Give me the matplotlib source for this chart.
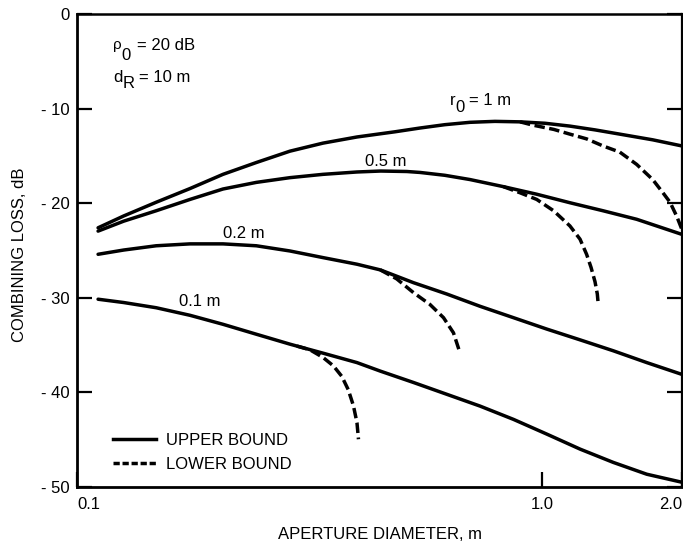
import matplotlib
matplotlib.use("Agg")
import matplotlib.pyplot as plt
from matplotlib.lines import Line2D
from matplotlib.ticker import FixedLocator, FixedFormatter, NullLocator

plt.rcParams["font.family"] = ["Liberation Sans", "DejaVu Sans"]

# ---- upper bounds (solid) ----
d_1m_up = [0.111, 0.126, 0.148, 0.175, 0.206, 0.243, 0.287, 0.338, 0.40, 0.483,
           0.547, 0.618, 0.70, 0.792, 0.897, 1.015, 1.148, 1.30, 1.47, 1.73, 2.0]
l_1m_up = [-22.6, -21.35, -19.9, -18.45, -16.95, -15.7, -14.5, -13.65, -13.0, -12.45,
           -12.05, -11.7, -11.45, -11.35, -11.4, -11.55, -11.85, -12.25, -12.7, -13.3, -13.95]

d_05m_up = [0.111, 0.126, 0.148, 0.175, 0.206, 0.243, 0.287, 0.338, 0.40, 0.45,
            0.512, 0.547, 0.618, 0.70, 0.826, 0.974, 1.148, 1.353, 1.598, 2.0]
l_05m_up = [-22.95, -21.9, -20.8, -19.6, -18.5, -17.8, -17.3, -16.95, -16.7, -16.6,
            -16.65, -16.75, -17.05, -17.5, -18.25, -19.05, -19.95, -20.8, -21.7, -23.3]

d_02m_up = [0.111, 0.126, 0.148, 0.175, 0.206, 0.243, 0.287, 0.338, 0.40, 0.449,
            0.529, 0.624, 0.736, 0.868, 1.023, 1.208, 1.423, 1.68, 2.0]
l_02m_up = [-25.4, -24.95, -24.5, -24.3, -24.3, -24.5, -25.05, -25.75, -26.45, -27.05,
            -28.4, -29.6, -30.9, -32.1, -33.3, -34.45, -35.6, -36.85, -38.1]

d_01m_up = [0.111, 0.126, 0.148, 0.175, 0.206, 0.243, 0.287, 0.338, 0.40, 0.449,
            0.529, 0.624, 0.736, 0.868, 1.023, 1.208, 1.423, 1.68, 2.0]
l_01m_up = [-30.15, -30.5, -31.05, -31.85, -32.8, -33.85, -34.9, -35.85, -36.85, -37.75,
            -38.95, -40.2, -41.45, -42.85, -44.4, -46.0, -47.4, -48.65, -49.5]

# ---- lower bounds (dashed) ----
d_1m_lo = [0.897, 0.956, 1.06, 1.148, 1.247, 1.353, 1.47, 1.598, 1.73, 1.82, 1.885, 1.949, 2.0]
l_1m_lo = [-11.4, -11.75, -12.2, -12.7, -13.2, -13.95, -14.6, -15.9, -17.5, -18.9, -19.9, -21.4, -22.8]

d_05m_lo = [0.826, 0.897, 0.974, 1.059, 1.148, 1.207, 1.247, 1.275, 1.30, 1.315, 1.321]
l_05m_lo = [-18.25, -18.9, -19.6, -20.8, -22.4, -23.8, -25.4, -26.8, -28.3, -29.6, -30.7]

d_02m_lo = [0.449, 0.487, 0.529, 0.574, 0.614, 0.645, 0.666]
l_02m_lo = [-27.05, -28.0, -29.45, -30.7, -32.1, -33.7, -35.8]

d_01m_lo = [0.297, 0.317, 0.338, 0.356, 0.371, 0.383, 0.393, 0.40, 0.403]
l_01m_lo = [-35.1, -35.5, -36.3, -37.2, -38.3, -39.7, -41.4, -43.2, -44.95]

x_ticks = [0.1, 1.0, 2.0]
x_tick_labels = ["0.1", "1.0", "2.0"]
y_ticks = [0, -10, -20, -30, -40, -50]
y_tick_labels = ["0", "- 10", "- 20", "- 30", "- 40", "- 50"]

LW = 2.5
DASH = (0, (3.0, 1.3))
FS = 12

fig = plt.figure(figsize=(6.83, 5.46), dpi=100)
ax = fig.add_axes([77 / 683, 1 - 487 / 546, 605 / 683, 473 / 546])
ax.set_xscale("log")
ax.set_xlim(0.1, 2.0)
ax.set_ylim(-50, 0)

for xs, ys in [(d_1m_up, l_1m_up), (d_05m_up, l_05m_up),
               (d_02m_up, l_02m_up), (d_01m_up, l_01m_up)]:
    ax.plot(xs, ys, color="black", lw=LW, solid_capstyle="round",
            solid_joinstyle="round")
for xs, ys in [(d_1m_lo, l_1m_lo), (d_05m_lo, l_05m_lo),
               (d_02m_lo, l_02m_lo), (d_01m_lo, l_01m_lo)]:
    ax.plot(xs, ys, color="black", lw=LW, linestyle=DASH)

# axes styling
ax.xaxis.set_major_locator(FixedLocator(x_ticks))
ax.xaxis.set_major_formatter(FixedFormatter(x_tick_labels))
ax.xaxis.set_minor_locator(NullLocator())
ax.yaxis.set_major_locator(FixedLocator(y_ticks))
ax.yaxis.set_major_formatter(FixedFormatter(y_tick_labels))
ax.tick_params(axis="both", which="major", direction="in", length=11,
               width=1.6, labelsize=FS, color="black")
ax.tick_params(axis="y", right=True, pad=5)
ax.tick_params(axis="x", pad=7)
for side, w in [("left", 2.0), ("bottom", 2.0), ("top", 1.8), ("right", 1.6)]:
    ax.spines[side].set_linewidth(w)

xl = ax.get_xticklabels()
xl[0].set_ha("left")
xl[-1].set_ha("right")

ax.set_xlabel("APERTURE DIAMETER, m", fontsize=FS, labelpad=11)
ax.set_ylabel("COMBINING LOSS, dB", fontsize=FS)
ax.yaxis.set_label_coords(-0.083, 0.49)

renderer = fig.canvas.get_renderer()


def parts_label(x, y, parts, coords="data"):
    """Draw text pieces in a row; each piece may be dropped by dy pixels."""
    dx = 0.0
    for text, dy, fs, gap in parts:
        t = ax.annotate(text, xy=(x, y),
                        xycoords="data" if coords == "data" else ax.transAxes,
                        xytext=(dx, -dy), textcoords="offset pixels",
                        fontsize=fs, ha="left", va="baseline")
        dx += t.get_window_extent(renderer).width + gap


# parameter block
parts_label(0.0595, 0.924, [("ρ", -1, 11, 0), ("0", 10, FS, 6), ("= 20 dB", 0, FS, 0)],
            coords="axes")
parts_label(0.0595, 0.856, [("d", 0, FS, 0), ("R", 6, FS, 5), ("= 10 m", 0, FS, 0)],
            coords="axes")

# curve labels
parts_label(0.633, -9.65, [("r", 0, FS, 0), ("0", 7, FS, 4), ("= 1 m", 0, FS, 0)])
ax.text(0.416, -16.1, "0.5 m", fontsize=FS, ha="left", va="baseline")
ax.text(0.206, -23.7, "0.2 m", fontsize=FS, ha="left", va="baseline")
ax.text(0.1656, -30.9, "0.1 m", fontsize=FS, ha="left", va="baseline")

handles = [Line2D([], [], color="black", lw=LW),
           Line2D([], [], color="black", lw=LW, linestyle=(0, (1.8, 0.8)))]
ax.legend(handles, ["UPPER BOUND", "LOWER BOUND"], loc="upper left",
          bbox_to_anchor=(0.0595, 0.114), frameon=False, fontsize=FS,
          handlelength=2.6, handletextpad=0.6, labelspacing=0.55,
          borderpad=0, borderaxespad=0)

fig.savefig("out.png", dpi=100)
